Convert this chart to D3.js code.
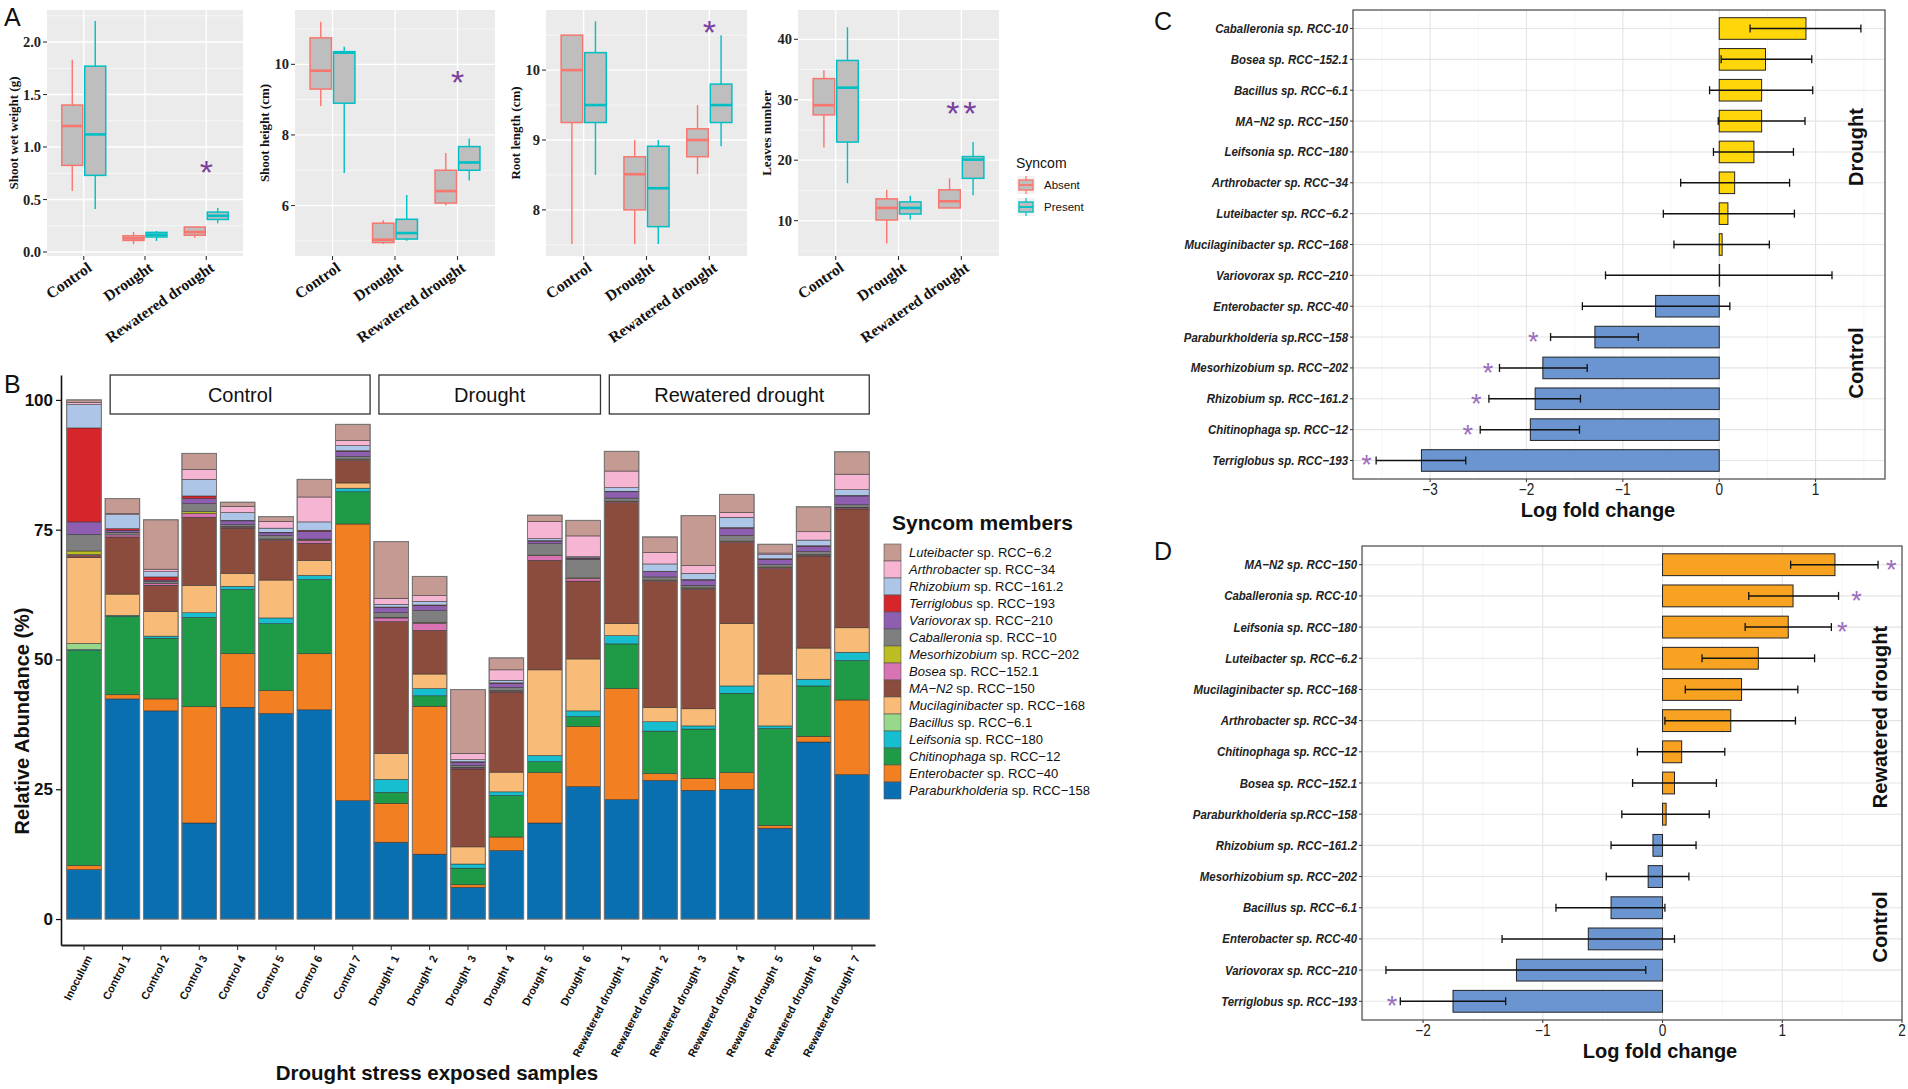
<!DOCTYPE html>
<html><head><meta charset="utf-8">
<script src="https://cdn.jsdelivr.net/npm/d3@7"></script>
<style>body{margin:0;background:#fff}svg{display:block}</style>
</head><body>
<svg id="fig" width="1908" height="1089"></svg>
<script>
// ================= DATA =================
// ---- Panel A (box plots: [min, q1, median, q3, max]) ----
const boxCategories = ["Control", "Drought", "Rewatered drought"];
const syncomLevels = ["Absent", "Present"];
const shootWetWeightAbsent  = [[0.58,0.825,1.20,1.40,1.83],[0.075,0.11,0.13,0.155,0.19],[0.135,0.16,0.19,0.238,0.245]];
const shootWetWeightPresent = [[0.41,0.73,1.12,1.77,2.20],[0.105,0.143,0.165,0.187,0.20],[0.275,0.31,0.345,0.38,0.42]];
const shootHeightAbsent  = [[8.82,9.30,9.82,10.75,11.21],[4.91,4.95,5.03,5.50,5.58],[6.0,6.07,6.41,7.0,7.49]];
const shootHeightPresent = [[6.92,8.90,10.33,10.36,10.5],[5.0,5.05,5.22,5.61,6.30],[6.71,7.0,7.22,7.67,7.9]];
const rootLengthAbsent  = [[7.51,9.25,10.0,10.5,10.5],[7.51,8.0,8.51,8.76,9.0],[8.51,8.76,9.0,9.16,9.5]];
const rootLengthPresent = [[8.5,9.25,9.5,10.25,10.7],[7.51,7.76,8.31,8.91,9.0],[8.91,9.25,9.5,9.8,10.5]];
const leavesAbsent  = [[22.1,27.5,29.1,33.5,34.9],[6.2,10.1,12.1,13.6,15.1],[12.1,12.1,13.2,15.1,17.0]];
const leavesPresent = [[16.2,23.0,32.0,36.5,42.0],[10.2,11.1,12.1,13.1,14.1],[14.2,17.0,20.1,20.6,23.0]];
const starsShootWet = [{cat:"Rewatered drought", value:0.83, n:1}];
const starsShootHeight = [{cat:"Rewatered drought", value:9.69, n:1}];
const starsRootLength = [{cat:"Rewatered drought", value:10.65, n:1}];
const starsLeaves = [{cat:"Rewatered drought", value:29.0, n:2}];

// ---- Panel B (relative abundance, %) ----
const samples = ["Inoculum","Control 1","Control 2","Control 3","Control 4","Control 5","Control 6","Control 7",
  "Drought  1","Drought  2","Drought  3","Drought  4","Drought  5","Drought  6",
  "Rewatered drought  1","Rewatered drought  2","Rewatered drought  3","Rewatered drought  4","Rewatered drought  5","Rewatered drought  6","Rewatered drought  7"];
const sampleGroups = [{label:"Control", first:"Control 1", last:"Control 7"},
  {label:"Drought", first:"Drought  1", last:"Drought  6"},
  {label:"Rewatered drought", first:"Rewatered drought  1", last:"Rewatered drought  7"}];
// legend order (top to bottom)
const memberGenus = ["Luteibacter","Arthrobacter","Rhizobium","Terriglobus","Variovorax","Caballeronia","Mesorhizobium","Bosea","MA\u2212N2","Mucilaginibacter","Bacillus","Leifsonia","Chitinophaga","Enterobacter","Paraburkholderia"];
const memberStrain = ["RCC\u22126.2","RCC\u221234","RCC\u2212161.2","RCC\u2212193","RCC\u2212210","RCC\u221210","RCC\u2212202","RCC\u2212152.1","RCC\u2212150","RCC\u2212168","RCC\u22126.1","RCC\u2212180","RCC\u221212","RCC\u221240","RCC\u2212158"];
const memberColors = ["#c49a92","#f5b5d3","#adc6e8","#d7262b","#8e5fb0","#7f7f7f","#bcbd22","#d873b4","#8b4c3d","#f9bb78","#98d88a","#17bed0","#1f9b48","#f27f22","#0a6fb1"];
const abLuteibacter      = [0.5,2.9,9.5,3.1,0.8,0.9,3.4,3.1,10.9,3.7,12.3,2.3,1.2,3.0,3.8,3.0,9.6,3.5,1.7,4.8,4.3];
const abArthrobacter     = [0.4,0.2,0.5,1.9,1.2,1.3,4.8,1.0,1.2,1.1,1.2,2.0,3.3,4.0,3.2,2.2,1.5,0.9,0.3,1.6,3.0];
const abRhizobium        = [4.5,2.7,1.0,3.2,1.5,0.8,1.6,1.0,0.5,0.7,0.4,0.5,0.4,0.2,0.7,1.4,1.2,2.0,0.8,1.1,1.1];
const abTerriglobus      = [18.1,0.3,0.6,0.5,0.1,0.1,0.2,0.1,0.1,0.1,0.1,0.1,0.1,0.1,0.1,0.1,0.1,0.1,0.1,0.1,0.1];
const abVariovorax       = [2.4,0.4,0.3,1.0,0.7,0.5,1.5,1.0,1.0,1.0,0.6,0.8,0.5,0.2,1.2,1.0,1.0,1.4,1.0,1.0,1.7];
const abCaballeronia     = [3.2,0.5,0.4,1.5,0.4,0.7,0.2,0.5,0.9,2.3,0.4,0.6,2.2,3.6,0.6,0.6,0.5,1.1,0.5,0.6,0.5];
const abMesorhizobium    = [0.7,0,0,0.4,0.1,0.1,0.1,0.1,0.1,0.1,0.1,0.1,0.1,0.1,0.1,0.1,0.1,0.1,0.1,0.1,0.1];
const abBosea            = [0.2,0.4,0.3,0.7,0.2,0.2,0.5,0.2,0.7,1.4,0.2,0.2,0.9,0.5,0.2,0.2,0.2,0.2,0.2,0.2,0.2];
const abMAN2             = [0.4,11.0,5.1,13.1,8.7,7.6,3.3,4.3,25.4,8.4,15.0,15.4,21.1,15.0,23.3,24.2,23.0,15.6,20.3,17.7,22.9];
const abMucilaginibacter = [16.5,4.1,4.7,5.3,2.5,7.3,2.9,1.0,5.0,2.8,3.3,3.8,16.5,10.0,2.3,2.8,3.3,12.0,10.0,6.0,4.7];
const abBacillus         = [1.2,0,0,0,0,0,0,0,0,0,0,0,0,0,0,0,0,0,0,0,0];
const abLeifsonia        = [0.2,0.2,0.4,0.9,0.6,1.1,0.8,0.7,2.5,1.4,0.8,0.7,1.2,1.1,1.6,1.8,0.6,1.4,0.5,1.3,1.6];
const abChitinophaga     = [41.4,15.1,11.7,17.2,12.4,12.9,14.3,6.2,2.1,2.0,3.2,8.0,2.1,1.9,8.6,8.2,9.5,15.3,18.7,9.7,7.6];
const abEnterobacter     = [0.8,0.8,2.3,22.4,10.3,4.4,10.8,53.3,7.5,28.5,0.5,2.6,9.7,11.6,21.4,1.3,2.3,3.2,0.5,1.1,14.4];
const abParaburkholderia = [9.5,42.4,40.1,18.5,40.8,39.6,40.3,22.8,14.8,12.5,6.1,13.2,18.5,25.5,23.0,26.7,24.8,25.0,17.5,34.1,27.8];
const memberSeries = [abLuteibacter,abArthrobacter,abRhizobium,abTerriglobus,abVariovorax,abCaballeronia,abMesorhizobium,abBosea,abMAN2,abMucilaginibacter,abBacillus,abLeifsonia,abChitinophaga,abEnterobacter,abParaburkholderia];
const abundanceTicks = [0,25,50,75,100];

// ---- Panel C (Drought vs Control) ----
const cTaxa = ["Caballeronia sp. RCC-10","Bosea sp. RCC\u2212152.1","Bacillus sp. RCC\u22126.1","MA\u2212N2 sp. RCC\u2212150","Leifsonia sp. RCC\u2212180","Arthrobacter sp. RCC\u221234","Luteibacter sp. RCC\u22126.2","Mucilaginibacter sp. RCC\u2212168","Variovorax sp. RCC\u2212210","Enterobacter sp. RCC-40","Paraburkholderia sp.RCC\u2212158","Mesorhizobium sp. RCC\u2212202","Rhizobium sp. RCC\u2212161.2","Chitinophaga sp. RCC\u221212","Terriglobus sp. RCC\u2212193"];
const cLfc  = [0.90,0.48,0.44,0.44,0.36,0.16,0.09,0.03,0.0,-0.66,-1.29,-1.83,-1.91,-1.96,-3.09];
const cLow  = [0.32,0.02,-0.10,-0.01,-0.06,-0.40,-0.58,-0.47,-1.18,-1.42,-1.75,-2.28,-2.39,-2.48,-3.56];
const cHigh = [1.47,0.96,0.97,0.89,0.77,0.73,0.78,0.52,1.17,0.11,-0.84,-1.37,-1.44,-1.45,-2.63];
const cStar = [null,null,null,null,null,null,null,null,null,null,-1.93,-2.40,-2.52,-2.61,-3.66];
const cTicks = [-3,-2,-1,0,1];

// ---- Panel D (Rewatered drought vs Control) ----
const dTaxa = ["MA\u2212N2 sp. RCC\u2212150","Caballeronia sp. RCC-10","Leifsonia sp. RCC\u2212180","Luteibacter sp. RCC\u22126.2","Mucilaginibacter sp. RCC\u2212168","Arthrobacter sp. RCC\u221234","Chitinophaga sp. RCC\u221212","Bosea sp. RCC\u2212152.1","Paraburkholderia sp.RCC\u2212158","Rhizobium sp. RCC\u2212161.2","Mesorhizobium sp. RCC\u2212202","Bacillus sp. RCC\u22126.1","Enterobacter sp. RCC-40","Variovorax sp. RCC\u2212210","Terriglobus sp. RCC\u2212193"];
const dLfc  = [1.44,1.09,1.05,0.80,0.66,0.57,0.16,0.10,0.03,-0.08,-0.12,-0.43,-0.62,-1.22,-1.75];
const dLow  = [1.07,0.72,0.69,0.33,0.19,0.02,-0.21,-0.25,-0.34,-0.43,-0.47,-0.89,-1.34,-2.31,-2.19];
const dHigh = [1.80,1.47,1.41,1.27,1.13,1.11,0.52,0.45,0.39,0.28,0.22,0.02,0.10,-0.14,-1.31];
const dStar = [1.91,1.62,1.50,null,null,null,null,null,null,null,null,null,null,null,-2.26];
const dTicks = [-2,-1,0,1,2];

// ================= DRAWING =================
const SANS = "'Liberation Sans', Arial, Helvetica, sans-serif";
const SERIF = "'Liberation Serif', 'Times New Roman', serif";
const svg = d3.select("#fig");
svg.append("rect").attr("width",1908).attr("height",1089).attr("fill","#fff");

function panelLetter(x, y, t){
  svg.append("text").attr("x",x).attr("y",y).attr("font-family",SANS).attr("font-size",25)
    .attr("fill","#111").text(t);
}

// ---------- Panel A ----------
function boxPanel(cfg){
  const top = 10, bottom = 256;
  const g = svg.append("g");
  const x = d3.scalePoint().domain(boxCategories).range([cfg.x0, cfg.x1]).padding(0.6);
  const y = d3.scaleLinear().domain(cfg.domain).range([bottom, top]);
  g.append("rect").attr("x",cfg.x0).attr("y",top).attr("width",cfg.x1-cfg.x0).attr("height",bottom-top).attr("fill","#ebebeb");
  const st = cfg.ticks[1]-cfg.ticks[0];
  const minor = d3.range(cfg.ticks[0]-st/2, cfg.domain[1], st).filter(v=>v>cfg.domain[0] && v<cfg.domain[1]);
  g.selectAll(null).data(minor).join("line").attr("x1",cfg.x0).attr("x2",cfg.x1)
    .attr("y1",d=>y(d)).attr("y2",d=>y(d)).attr("stroke","#fff").attr("stroke-width",0.6);
  g.selectAll(null).data(cfg.ticks).join("line").attr("x1",cfg.x0).attr("x2",cfg.x1)
    .attr("y1",d=>y(d)).attr("y2",d=>y(d)).attr("stroke","#fff").attr("stroke-width",1.3);
  g.selectAll(null).data(boxCategories).join("line").attr("x1",d=>x(d)).attr("x2",d=>x(d))
    .attr("y1",top).attr("y2",bottom).attr("stroke","#fff").attr("stroke-width",1.3);
  // y axis
  g.selectAll(null).data(cfg.ticks).join("line").attr("x1",cfg.x0-4).attr("x2",cfg.x0)
    .attr("y1",d=>y(d)).attr("y2",d=>y(d)).attr("stroke","#333").attr("stroke-width",1.1);
  g.selectAll(null).data(cfg.ticks).join("text").attr("x",cfg.x0-6).attr("y",d=>y(d)).attr("dy","0.35em")
    .attr("text-anchor","end").attr("font-family",SERIF).attr("font-weight","bold").attr("font-size",14.5)
    .attr("fill","#222").text(cfg.fmt);
  // x axis
  g.selectAll(null).data(boxCategories).join("line").attr("x1",d=>x(d)).attr("x2",d=>x(d))
    .attr("y1",bottom).attr("y2",bottom+4).attr("stroke","#333").attr("stroke-width",1.1);
  g.selectAll(null).data(boxCategories).join("text")
    .attr("transform",d=>`translate(${x(d)+9},${bottom+14}) rotate(-35)`)
    .attr("text-anchor","end").attr("font-family",SERIF).attr("font-weight","bold").attr("font-size",15.5)
    .attr("fill","#111").text(d=>d);
  // y title
  g.append("text").attr("transform",`translate(${cfg.titleX},${(top+bottom)/2}) rotate(-90)`)
    .attr("text-anchor","middle").attr("dy","0.35em").attr("font-family",SERIF).attr("font-weight","bold")
    .attr("font-size",13).attr("fill","#111").text(cfg.title);
  // boxes
  const bw = x.step()*0.375;
  [cfg.absent, cfg.present].forEach((arr, gi)=>{
    const col = gi ? "#00BFC4" : "#F8766D";
    arr.forEach((s, ci)=>{
      const cx = x(boxCategories[ci]) + (gi-0.5)*bw;
      const [mn,q1,md,q3,mx] = s;
      g.append("line").attr("x1",cx).attr("x2",cx).attr("y1",y(mx)).attr("y2",y(q3)).attr("stroke",col).attr("stroke-width",1.4);
      g.append("line").attr("x1",cx).attr("x2",cx).attr("y1",y(q1)).attr("y2",y(mn)).attr("stroke",col).attr("stroke-width",1.4);
      g.append("rect").attr("x",cx-bw/2+1).attr("width",bw-2).attr("y",y(q3)).attr("height",Math.max(y(q1)-y(q3),0.5))
        .attr("fill","#bebebe").attr("stroke",col).attr("stroke-width",1.5);
      g.append("line").attr("x1",cx-bw/2+1).attr("x2",cx+bw/2-1).attr("y1",y(md)).attr("y2",y(md))
        .attr("stroke",col).attr("stroke-width",2.6);
    });
  });
  // significance stars
  cfg.stars.forEach(s=>{
    d3.range(s.n).forEach(i=>{
      g.append("text").attr("x",x(s.cat)+(i-(s.n-1)/2)*17).attr("y",y(s.value)+19)
        .attr("text-anchor","middle").attr("font-family",SANS).attr("font-size",34)
        .attr("fill","#7b3fa0").text("*");
    });
  });
}

boxPanel({x0:47,x1:243,domain:[-0.038,2.305],ticks:[0,0.5,1,1.5,2],fmt:d3.format(".1f"),
  title:"Shoot wet weight (g)",titleX:13,absent:shootWetWeightAbsent,present:shootWetWeightPresent,stars:starsShootWet});
boxPanel({x0:295,x1:495,domain:[4.57,11.54],ticks:[6,8,10],fmt:d=>d,
  title:"Shoot height (cm)",titleX:264,absent:shootHeightAbsent,present:shootHeightPresent,stars:starsShootHeight});
boxPanel({x0:546,x1:747,domain:[7.34,10.86],ticks:[8,9,10],fmt:d=>d,
  title:"Root length (cm)",titleX:515,absent:rootLengthAbsent,present:rootLengthPresent,stars:starsRootLength});
boxPanel({x0:798,x1:999,domain:[4.15,44.85],ticks:[10,20,30,40],fmt:d=>d,
  title:"Leaves number",titleX:766,absent:leavesAbsent,present:leavesPresent,stars:starsLeaves});

// legend A
(function(){
  const g = svg.append("g");
  g.append("text").attr("x",1016).attr("y",168).attr("font-family",SANS).attr("font-size",14).attr("fill","#111").text("Syncom");
  syncomLevels.forEach((lv,i)=>{
    const cy = 185 + i*22, col = i ? "#00BFC4" : "#F8766D";
    g.append("rect").attr("x",1017).attr("y",cy-9).attr("width",18).attr("height",18).attr("fill","#f2f2f2");
    g.append("line").attr("x1",1026).attr("x2",1026).attr("y1",cy-9).attr("y2",cy+9).attr("stroke",col).attr("stroke-width",1.2);
    g.append("rect").attr("x",1019).attr("y",cy-5).attr("width",14).attr("height",10).attr("fill","#bebebe").attr("stroke",col).attr("stroke-width",1.4);
    g.append("line").attr("x1",1019).attr("x2",1033).attr("y1",cy).attr("y2",cy).attr("stroke",col).attr("stroke-width",1.8);
    g.append("text").attr("x",1044).attr("y",cy).attr("dy","0.35em").attr("font-family",SANS).attr("font-size",11.5).attr("fill","#111").text(lv);
  });
})();

// ---------- Panel B ----------
(function(){
  const g = svg.append("g");
  const xB = d3.scaleBand().domain(samples).range([61,875]).paddingInner(0.1).paddingOuter(0.15);
  const yB = d3.scaleLinear().domain([-5,104.8]).range([945,375]);
  const stackKeys = memberGenus.slice().reverse();
  const rows = samples.map((s,i)=>{const o={sample:s}; memberGenus.forEach((k,j)=>o[k]=memberSeries[j][i]); return o;});
  const series = d3.stack().keys(stackKeys)(rows);
  const color = d3.scaleOrdinal().domain(memberGenus).range(memberColors);
  series.forEach(sr=>{
    g.selectAll(null).data(sr.filter(d=>d[1]-d[0]>0)).join("rect")
      .attr("x",d=>xB(d.data.sample)).attr("width",xB.bandwidth())
      .attr("y",d=>yB(d[1])).attr("height",d=>yB(d[0])-yB(d[1]))
      .attr("fill",color(sr.key)).attr("stroke","#2e2e2e").attr("stroke-width",0.5);
  });
  const totals = rows.map(r=>({sample:r.sample,total:d3.sum(memberGenus,k=>r[k])}));
  g.selectAll(null).data(totals).join("rect").attr("x",d=>xB(d.sample)).attr("width",xB.bandwidth())
    .attr("y",d=>yB(d.total)).attr("height",d=>yB(0)-yB(d.total)).attr("fill","none").attr("stroke","#777").attr("stroke-width",1);
  // axes
  const ay = g.append("g").attr("transform","translate(61,0)")
    .call(d3.axisLeft(yB).tickValues(abundanceTicks).tickSize(5).tickSizeOuter(0));
  ay.select(".domain").attr("stroke","#111").attr("stroke-width",1.6);
  ay.selectAll(".tick line").attr("stroke","#111").attr("stroke-width",1.2);
  ay.selectAll("text").attr("font-family",SANS).attr("font-weight","bold").attr("font-size",17).attr("fill","#111");
  const ax = g.append("g").attr("transform","translate(0,945)")
    .call(d3.axisBottom(xB).tickSize(5).tickSizeOuter(0));
  ax.select(".domain").attr("stroke","#222").attr("stroke-width",1.8);
  ax.selectAll(".tick line").attr("stroke","#222").attr("stroke-width",1);
  ax.selectAll("text").attr("x",0).attr("y",0).attr("dy","0.35em").attr("text-anchor","end")
    .attr("transform","translate(5,11) rotate(-63)").attr("font-family",SANS)
    .attr("font-weight","bold").attr("font-size",11).attr("fill","#111").style("white-space","pre");
  // titles
  g.append("text").attr("transform","translate(22,721) rotate(-90)").attr("text-anchor","middle").attr("dy","0.35em")
    .attr("font-family",SANS).attr("font-weight","bold").attr("font-size",20).attr("fill","#111").text("Relative Abundance (%)");
  g.append("text").attr("x",437).attr("y",1080).attr("text-anchor","middle")
    .attr("font-family",SANS).attr("font-weight","bold").attr("font-size",20.5).attr("fill","#111").text("Drought stress exposed samples");
  // strip boxes
  sampleGroups.forEach(sg=>{
    const x1 = xB(sg.first)+5, x2 = xB(sg.last)+xB.bandwidth();
    g.append("rect").attr("x",x1).attr("y",375).attr("width",x2-x1).attr("height",39)
      .attr("fill","#fff").attr("stroke","#333").attr("stroke-width",1.3);
    g.append("text").attr("x",(x1+x2)/2).attr("y",394.5).attr("dy","0.35em").attr("text-anchor","middle")
      .attr("font-family",SANS).attr("font-size",20).attr("fill","#111").text(sg.label);
  });
  // legend
  g.append("text").attr("x",892).attr("y",530).attr("font-family",SANS).attr("font-weight","bold").attr("font-size",21).attr("fill","#111").text("Syncom members");
  memberGenus.forEach((m,i)=>{
    const yy = 544 + i*17;
    g.append("rect").attr("x",884).attr("y",yy).attr("width",17).attr("height",17)
      .attr("fill",memberColors[i]).attr("stroke","#555").attr("stroke-width",0.6);
    const t = g.append("text").attr("x",909).attr("y",yy+8.5).attr("dy","0.35em").attr("font-family",SANS).attr("font-size",13).attr("fill","#111");
    t.append("tspan").attr("font-style","italic").text(m);
    t.append("tspan").text(" sp. "+memberStrain[i]);
  });
})();

// ---------- Panels C & D ----------
function lfcPanel(cfg){
  const g = svg.append("g");
  const x = d3.scaleLinear().domain(cfg.xDomain).range([cfg.x0, cfg.x1]);
  const y = d3.scalePoint().domain(cfg.taxa).range([cfg.y0, cfg.y1]).padding(0.6);
  const bh = y.step()*0.7;
  const minor = d3.range(cfg.ticks[0]-0.5, cfg.xDomain[1], 1).filter(v=>v>cfg.xDomain[0] && v<cfg.xDomain[1]);
  g.selectAll(null).data(minor).join("line").attr("x1",d=>x(d)).attr("x2",d=>x(d)).attr("y1",cfg.y0).attr("y2",cfg.y1)
    .attr("stroke","#f2f2f2").attr("stroke-width",0.7);
  g.selectAll(null).data(cfg.ticks.filter(v=>x(v)<cfg.x1-1)).join("line").attr("x1",d=>x(d)).attr("x2",d=>x(d)).attr("y1",cfg.y0).attr("y2",cfg.y1)
    .attr("stroke","#e4e4e4").attr("stroke-width",1.1);
  g.selectAll(null).data(cfg.taxa).join("line").attr("x1",cfg.x0).attr("x2",cfg.x1).attr("y1",d=>y(d)).attr("y2",d=>y(d))
    .attr("stroke","#e4e4e4").attr("stroke-width",1.1);
  const rows = cfg.taxa.map((t,i)=>({t, v:cfg.lfc[i], lo:cfg.low[i], hi:cfg.high[i], star:cfg.star[i]}));
  g.selectAll(null).data(rows).join("rect")
    .attr("x",d=>Math.min(x(0),x(d.v))).attr("width",d=>Math.max(Math.abs(x(d.v)-x(0)),0.4))
    .attr("y",d=>y(d.t)-bh/2).attr("height",bh)
    .attr("fill",d=>d.v>0?cfg.posColor:cfg.negColor).attr("stroke","#222").attr("stroke-width",1);
  g.selectAll(null).data(rows).join("line").attr("x1",d=>x(d.lo)).attr("x2",d=>x(d.hi))
    .attr("y1",d=>y(d.t)).attr("y2",d=>y(d.t)).attr("stroke","#111").attr("stroke-width",1.5);
  ["lo","hi"].forEach(k=>{
    g.selectAll(null).data(rows).join("line").attr("x1",d=>x(d[k])).attr("x2",d=>x(d[k]))
      .attr("y1",d=>y(d.t)-4).attr("y2",d=>y(d.t)+4).attr("stroke","#111").attr("stroke-width",1.3);
  });
  g.selectAll(null).data(rows.filter(d=>d.star!==null)).join("text")
    .attr("x",d=>x(d.star)).attr("y",d=>y(d.t)+14).attr("text-anchor","middle")
    .attr("font-family",SANS).attr("font-size",27).attr("fill","#9a6cbb").text("*");
  // border
  g.append("rect").attr("x",cfg.x0).attr("y",cfg.y0).attr("width",cfg.x1-cfg.x0).attr("height",cfg.y1-cfg.y0)
    .attr("fill","none").attr("stroke","#555").attr("stroke-width",1.3);
  // y ticks + labels
  g.selectAll(null).data(cfg.taxa).join("line").attr("x1",cfg.x0-3).attr("x2",cfg.x0).attr("y1",d=>y(d)).attr("y2",d=>y(d))
    .attr("stroke","#333").attr("stroke-width",1);
  g.selectAll(null).data(cfg.taxa).join("text")
    .attr("transform",d=>`translate(${cfg.x0-5},${y(d)}) scale(0.88,1)`).attr("dy","0.35em").attr("text-anchor","end")
    .attr("font-family",SANS).attr("font-style","italic").attr("font-weight","bold").attr("font-size",13).attr("fill","#222").text(d=>d);
  // x ticks
  g.selectAll(null).data(cfg.ticks).join("line").attr("x1",d=>x(d)).attr("x2",d=>x(d)).attr("y1",cfg.y1).attr("y2",cfg.y1+3)
    .attr("stroke","#333").attr("stroke-width",1);
  g.selectAll(null).data(cfg.ticks).join("text")
    .attr("transform",d=>`translate(${x(d)},${cfg.y1+16}) scale(0.85,1)`).attr("text-anchor","middle")
    .attr("font-family",SANS).attr("font-size",16).attr("fill","#222").text(d=>d<0?"\u2212"+(-d):d);
  g.append("text").attr("x",cfg.titleX).attr("y",cfg.y1+38).attr("text-anchor","middle")
    .attr("font-family",SANS).attr("font-weight","bold").attr("font-size",20).attr("fill","#111").text("Log fold change");
  cfg.groups.forEach(gr=>{
    g.append("text").attr("transform",`translate(${cfg.groupX},${gr.y}) rotate(-90)`).attr("text-anchor","middle").attr("dy","0.35em")
      .attr("font-family",SANS).attr("font-weight","bold").attr("font-size",20).attr("fill","#111").text(gr.text);
  });
}

lfcPanel({x0:1353,x1:1885,y0:10,y1:479,xDomain:[-3.80,1.72],taxa:cTaxa,lfc:cLfc,low:cLow,high:cHigh,star:cStar,ticks:cTicks,
  posColor:"#ffd60a",negColor:"#6b95d0",titleX:1598,groupX:1856,groups:[{text:"Drought",y:147},{text:"Control",y:363}]});
lfcPanel({x0:1362,x1:1902,y0:546,y1:1020,xDomain:[-2.51,2.0],taxa:dTaxa,lfc:dLfc,low:dLow,high:dHigh,star:dStar,ticks:dTicks,
  posColor:"#f7a321",negColor:"#6b95d0",titleX:1660,groupX:1880,groups:[{text:"Rewatered drought",y:717},{text:"Control",y:927}]});

panelLetter(4,26,"A");
panelLetter(4,393,"B");
panelLetter(1154,30,"C");
panelLetter(1154,560,"D");
</script>
</body></html>
